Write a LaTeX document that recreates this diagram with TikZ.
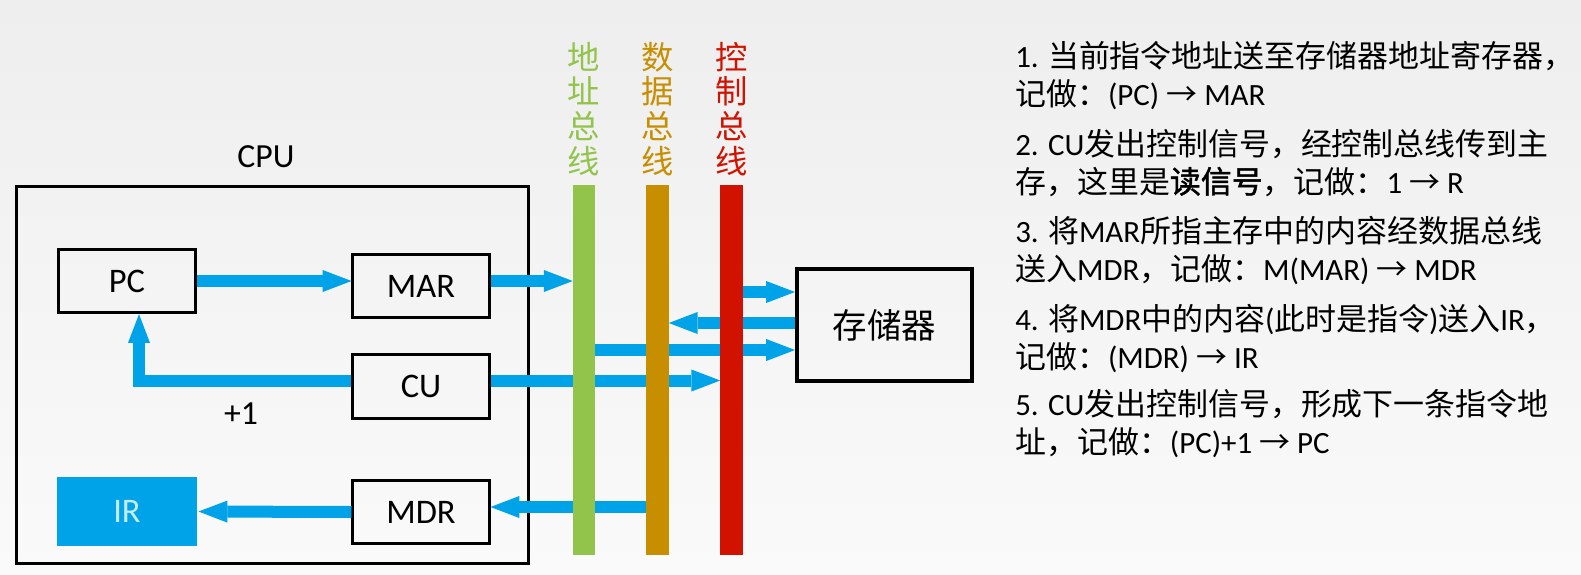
\documentclass[tikz,border=0pt]{standalone}
\usepackage{fontspec}
\setmainfont{Carlito}
\newfontfamily\cjk{Noto Sans CJK SC}
\newfontfamily\cjkbold[FakeBold=1.5]{Noto Sans CJK SC}
\usepackage{xcolor}
\usepackage{tikz}
\usetikzlibrary{arrows.meta, positioning, calc}

\newcommand{\zh}[1]{{\cjk #1}}
\definecolor{flowblue}{RGB}{0,162,232}
\definecolor{abuscol}{RGB}{146,196,76}
\definecolor{dbuscol}{RGB}{199,143,0}
\definecolor{cbuscol}{RGB}{210,18,0}

\begin{document}
\begin{tikzpicture}[
    x=0.025cm, y=-0.025cm,
    box/.style={draw, line width=0.075cm, minimum width=3.4cm, minimum height=1.58cm, inner sep=0pt, font=\fontsize{24.5}{28}\selectfont},
    flow/.style={draw=flowblue, line width=0.3cm, -{Triangle[width=0.55cm, length=0.72cm, line width=0pt]}},
    busbar/.style={minimum width=0.55cm, minimum height=9.25cm, inner sep=0pt},
    buslabel/.style={font=\cjk\fontsize{23}{24.7}\selectfont, align=center, inner sep=0pt},
    stepnote/.style={anchor=base west, align=left, inner sep=0pt, font=\fontsize{22}{27}\selectfont}
]

% background
\fill[top color={rgb,255:red,238;green,238;blue,238}, bottom color={rgb,255:red,250;green,250;blue,250}] (0,0) rectangle (1581,574);
\useasboundingbox (0,0) rectangle (1581,574);

% CPU
\node[draw, line width=0.075cm, minimum width=12.8cm, minimum height=9.425cm] (cpu) at (272.5,375) {};
\node[font=\fontsize{24}{28}\selectfont] (cpulabel) at (266,157) {CPU};

\node[box] (pc) at (127,281) {PC};
\node[box] (mar) at (421,286) {MAR};
\node[box] (cu) at (421,386.5) {CU};
\node[box] (mdr) at (421,512) {MDR};
\node[box, draw=none, fill=flowblue, text=white!78!flowblue, minimum width=3.5cm, minimum height=1.72cm] (ir) at (127,511.5) {IR};
\node[font=\fontsize{24}{28}\selectfont] (plusone) at (241,414) {+1};

% buses (filled later, on top of the arrows)
\node[busbar] (abus) at (584,370) {};
\node[busbar] (dbus) at (657.5,370) {};
\node[busbar] (cbus) at (731.5,370) {};

\node[buslabel, text=abuscol] (alabel) at (584,109) {地\\址\\总\\线};
\node[buslabel, text=dbuscol] (dlabel) at (657.5,109) {数\\据\\总\\线};
\node[buslabel, text=cbuscol] (clabel) at (731.5,109) {控\\制\\总\\线};

% memory
\node[box, line width=0.1cm, minimum width=4.375cm, minimum height=2.8cm] (mem) at (884.5,325) {\zh{存储器}};
\coordinate (m1) at ([yshift=0.825cm]mem.west);
\coordinate (m2) at ([yshift=0.05cm]mem.west);
\coordinate (m3) at ([yshift=-0.625cm]mem.west);

\coordinate (marout) at ([yshift=0.125cm]mar.east);
\coordinate (cuin) at ([yshift=0.15cm]cu.west);
\coordinate (cuout) at ([yshift=0.15cm]cu.east);
\coordinate (mdrin) at ([yshift=0.125cm]mdr.east);

% arrows
\draw[flow] (pc.east) -- (pc.east -| mar.west);
\draw[flow] (marout) -- (marout -| abus.west);
\draw[flow] (cuin) -| ([xshift=0.3cm]pc.south);
\draw[flow] (cuout) -- (cuout -| cbus.west);
\draw[flow] (mdrin -| dbus.west) -- (mdrin);
\draw[flow] (mdr.west) -- (ir.east);
\draw[flow] (m1 -| cbus.east) -- (m1);
\draw[flow] (m2) -- (m2 -| dbus.east);
\draw[flow] (m3 -| abus.east) -- (m3);

\fill[abuscol] (abus.south west) rectangle (abus.north east);
\fill[dbuscol] (dbus.south west) rectangle (dbus.north east);
\fill[cbuscol] (cbus.south west) rectangle (cbus.north east);

% steps
\node[stepnote] (step1) at (1015,105) {1. \zh{当前指令地址送至存储器地址寄存器，}\\\zh{记做：}(PC) \zh{→} MAR};
\node[stepnote] (step2) at (1015,193) {2. CU\zh{发出控制信号，经控制总线传到主}\\\zh{存，这里是}{\cjkbold 读信号}\zh{，记做：}1 \zh{→} R};
\node[stepnote] (step3) at (1015,280) {3. \zh{将}MAR\zh{所指主存中的内容经数据总线}\\\zh{送入}MDR\zh{，记做：}M(MAR) \zh{→} MDR};
\node[stepnote] (step4) at (1015,368) {4. \zh{将}MDR\zh{中的内容}(\zh{此时是指令})\zh{送入}IR\zh{，}\\\zh{记做：}(MDR) \zh{→} IR};
\node[stepnote] (step5) at (1015,453) {5. CU\zh{发出控制信号，形成下一条指令地}\\\zh{址，记做：}(PC)+1 \zh{→} PC};

\end{tikzpicture}
\end{document}
